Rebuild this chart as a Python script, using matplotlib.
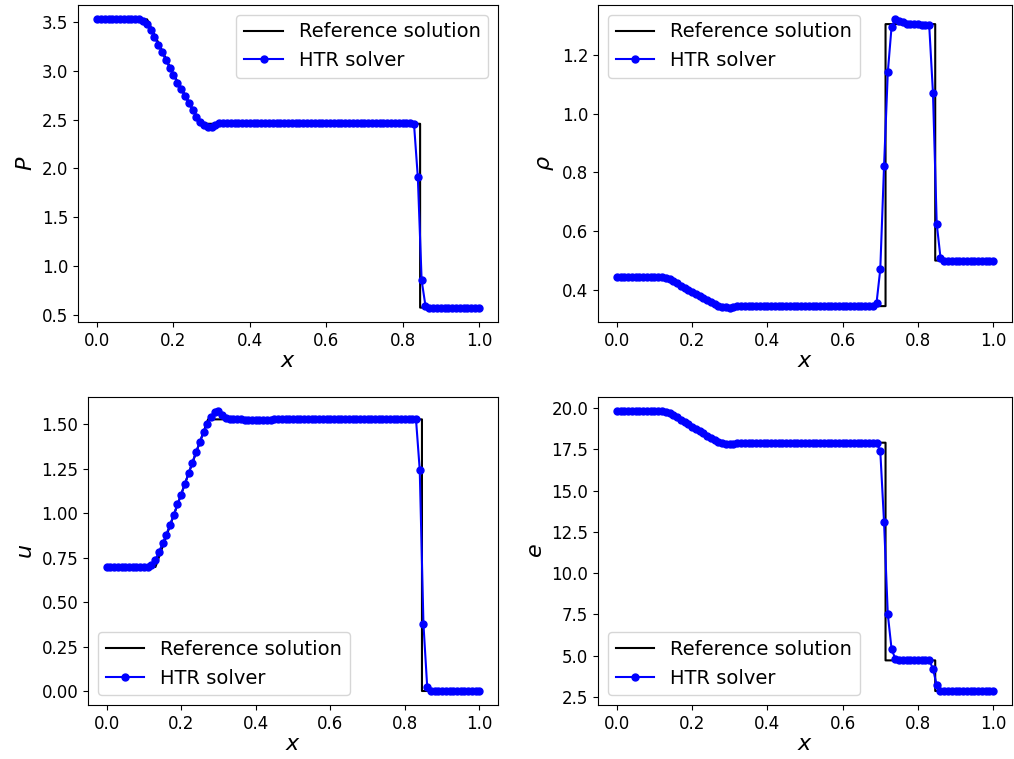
import numpy as np
import matplotlib
matplotlib.use("Agg")
import matplotlib.pyplot as plt
from matplotlib.ticker import MultipleLocator

# solver grid (uniform, 101 points on [0, 1])
x_htr = np.linspace(0.0, 1.0, 101)

# reference (exact) solution breakpoints
x_ref = [0.0, 0.131, 0.20, 0.272, 0.714, 0.714, 0.846, 0.846, 1.0]
p_ref = [3.528, 3.528, 2.965, 2.457, 2.457, 2.457, 2.457, 0.571, 0.571]
rho_ref = [0.445, 0.445, 0.393, 0.345, 0.345, 1.304, 1.304, 0.5, 0.5]
u_ref = [0.698, 0.698, 1.107, 1.528, 1.528, 1.528, 1.528, 0.0, 0.0]
e_ref = [19.82, 19.82, 18.86, 17.9, 17.9, 4.71, 4.71, 2.855, 2.855]

# HTR solver values
p_htr = ([3.528] * 12
         + [3.51, 3.48, 3.42, 3.35, 3.27, 3.19, 3.11, 3.03, 2.96, 2.88, 2.81,
            2.74, 2.67, 2.60, 2.53, 2.48, 2.44, 2.42, 2.42, 2.44, 2.46]
         + [2.465] * 2 + [2.47] * 11 + [2.465] * 37
         + [2.455, 1.91, 0.85, 0.59]
         + [0.571] * 14)

rho_htr = ([0.445] * 12
           + [0.444, 0.441, 0.436, 0.429, 0.422, 0.415, 0.408, 0.400, 0.393,
              0.386, 0.379, 0.372, 0.365, 0.358, 0.352, 0.347, 0.343, 0.341,
              0.340, 0.342, 0.344]
           + [0.345] * 36
           + [0.355, 0.47, 0.82, 1.14, 1.295, 1.32, 1.315, 1.31]
           + [1.305] * 4 + [1.30] * 3
           + [1.07, 0.625, 0.51]
           + [0.5] * 14)

u_htr = ([0.698] * 11
         + [0.70, 0.71, 0.735, 0.78, 0.83, 0.88, 0.935, 0.99, 1.05, 1.105,
            1.165, 1.225, 1.285, 1.345, 1.40, 1.455, 1.50, 1.54, 1.57, 1.575,
            1.555, 1.535, 1.53]
         + [1.528] * 3 + [1.522] * 8 + [1.528] * 39
         + [1.245, 0.375, 0.025]
         + [0.0] * 14)

e_htr = ([19.82] * 12
         + [19.80, 19.76, 19.68, 19.56, 19.43, 19.29, 19.15, 19.01, 18.87,
            18.73, 18.60, 18.46, 18.32, 18.19, 18.06, 17.95, 17.87, 17.82,
            17.80, 17.83, 17.86]
         + [17.9] * 36
         + [17.88, 17.4, 13.1, 7.5, 5.4, 4.8, 4.75]
         + [4.73] * 8
         + [4.2, 3.2, 2.88]
         + [2.855] * 14)

W, H = 1014, 759
fig = plt.figure(figsize=(W / 100, H / 100), dpi=100)


def box(l, t, r, b):
    return [l / W, (H - b) / H, (r - l) / W, (b - t) / H]


panels = [
    (box(78, 5, 498, 322), p_ref, p_htr, r"$P$", "upper right"),
    (box(598, 5, 1012, 322), rho_ref, rho_htr, r"$\rho$", "upper left"),
    (box(88, 397, 498, 705), u_ref, u_htr, r"$u$", "lower left"),
    (box(598, 397, 1012, 705), e_ref, e_htr, r"$e$", "lower left"),
]

axes = []
for rect, ref, htr, lab, loc in panels:
    ax = fig.add_axes(rect)
    ax.plot(x_ref, ref, color="black", lw=1.5, label="Reference solution")
    ax.plot(x_htr, htr, color="blue", marker="o", ms=5, lw=1.5,
            label="HTR solver")
    ax.set_xlabel(r"$x$", fontsize=16, labelpad=1)
    ax.set_ylabel(lab, fontsize=16)
    ax.tick_params(labelsize=12)
    ax.legend(loc=loc, fontsize=14)
    axes.append(ax)

axes[2].yaxis.set_major_locator(MultipleLocator(0.25))
axes[2].yaxis.set_major_formatter("{x:.2f}")

fig.savefig("out.png", dpi=100)
